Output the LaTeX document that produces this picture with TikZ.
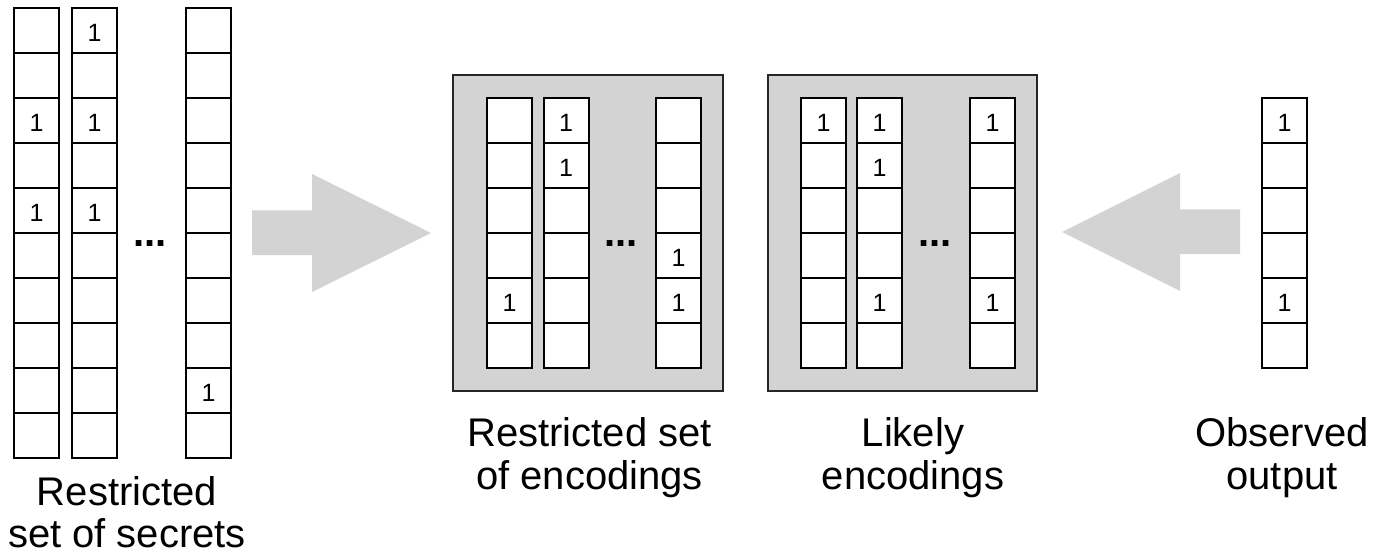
\documentclass[tikz,border=0pt]{standalone}
\usepackage{fontspec}
\setmainfont{Liberation Sans}
\definecolor{boxgray}{RGB}{211,211,211}
\begin{document}
\begin{tikzpicture}[x=1pt,y=-1pt,
  cell/.style={draw=black, line width=2pt, fill=white, minimum width=45pt, minimum height=45pt, inner sep=0pt, outer sep=0pt},
  digit/.style={inner sep=0pt, font=\fontsize{25}{30}\selectfont, text height=22pt, text depth=0pt},
  dots/.style={inner sep=0pt, anchor=base, font=\fontsize{40}{43}\selectfont\bfseries},
  lbl/.style={inner sep=0pt, anchor=base, font=\fontsize{40}{43}\selectfont},
  grp/.style={draw=black!85, line width=2.5pt, fill=boxgray, inner sep=0pt, outer sep=0pt},
  blockarrow/.style={fill=boxgray, draw=none}]
\useasboundingbox (0,0) rectangle (1373,556);

% gray containers
\node[grp, minimum width=270pt, minimum height=316pt] (encA) at (588,233) {};
\node[grp, minimum width=269pt, minimum height=316pt] (encB) at (902.5,233) {};

% block arrows
\coordinate (ra1) at (252,210.5);
\fill[blockarrow] (ra1) -- (312,210.5) -- (312,174) -- (431,233) -- (312,292) -- (312,255) -- (252,255) -- cycle;
\coordinate (la1) at (1240,209.5);
\fill[blockarrow] (la1) -- (1180,209.5) -- (1180,173) -- (1062,232) -- (1180,291) -- (1180,254) -- (1240,254) -- cycle;

% restricted set of secrets
\foreach \c/\x in {1/36.5,2/94.5,3/208.5}
  \foreach \r in {1,...,10}
    \node[cell] (s\c-\r) at (\x,{30.5+45*(\r-1)}) {};
\foreach \c/\r in {1/3,1/5,2/1,2/3,2/5,3/9}
  \node[digit] (sd\c-\r) at (s\c-\r.center) {1};
\node[dots] (sdots) at (150,247) {...};

% restricted set of encodings
\foreach \c/\x in {1/509.5,2/566,3/678.5}
  \foreach \r in {1,...,6}
    \node[cell] (a\c-\r) at (\x,{120.5+45*(\r-1)}) {};
\foreach \c/\r in {1/5,2/1,2/2,3/4,3/5}
  \node[digit] (ad\c-\r) at (a\c-\r.center) {1};
\node[dots] (adots) at (621,247) {...};

% likely encodings
\foreach \c/\x in {1/823.5,2/879.5,3/992.5}
  \foreach \r in {1,...,6}
    \node[cell] (b\c-\r) at (\x,{120.5+45*(\r-1)}) {};
\foreach \c/\r in {1/1,2/1,2/2,2/5,3/1,3/5}
  \node[digit] (bd\c-\r) at (b\c-\r.center) {1};
\node[dots] (bdots) at (935,247) {...};

% observed output
\foreach \r in {1,...,6}
  \node[cell] (o-\r) at (1284.5,{120.5+45*(\r-1)}) {};
\foreach \r in {1,5}
  \node[digit] (od-\r) at (o-\r.center) {1};

% labels
\node[lbl] (ls1) at (127,505) {Restricted};
\node[lbl] (ls2) at (127,547) {set of secrets};
\node[lbl] (la1t) at (589.5,446) {Restricted set};
\node[lbl] (la2t) at (589.5,489) {of encodings};
\node[lbl] (lb1t) at (913,446) {Likely};
\node[lbl] (lb2t) at (913,489) {encodings};
\node[lbl] (lo1t) at (1282,446) {Observed};
\node[lbl] (lo2t) at (1282,489) {output};
\end{tikzpicture}
\end{document}
